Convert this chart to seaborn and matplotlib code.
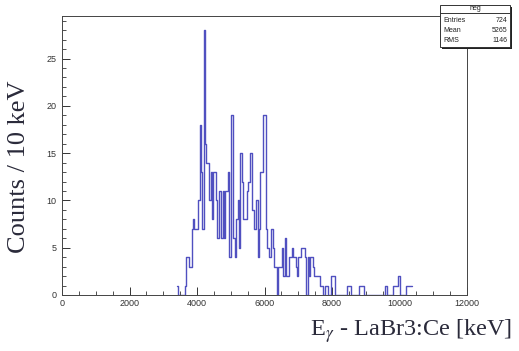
import numpy as np
import pandas as pd
import matplotlib
matplotlib.use("Agg")
import matplotlib.pyplot as plt
from matplotlib.patches import Rectangle
from matplotlib.lines import Line2D
from matplotlib.ticker import MultipleLocator
import seaborn as sns

# ---------------- data ----------------
bin_start = 3400      # keV, low edge of first bin
bin_width = 40        # keV
counts = [
    1, 0, 0, 0, 0, 0, 1, 4, 4, 3,
    3, 7, 8, 7, 7, 7, 10, 18, 13, 7,
    28, 16, 14, 14, 10, 13, 8, 13, 13, 10,
    6, 11, 11, 6, 11, 6, 11, 11, 13, 4,
    19, 19, 6, 4, 8, 10, 5, 15, 12, 8,
    8, 8, 11, 12, 15, 15, 9, 7, 7, 10,
    4, 7, 13, 13, 19, 19, 7, 5, 4, 4,
    7, 5, 3, 3, 0, 3, 3, 3, 5, 2,
    6, 2, 2, 4, 4, 5, 4, 4, 3, 2,
    4, 4, 5, 5, 5, 4, 0, 4, 2, 4,
    4, 3, 2, 2, 2, 2, 1, 1, 0, 0,
    1, 1, 0, 0, 2, 2, 2, 0, 0, 0,
    0, 0, 0, 0, 0, 0, 1, 1, 1, 0,
    0, 0, 0, 0, 0, 1, 1, 1, 1, 0,
    0, 0, 0, 0, 0, 0, 0, 0, 0, 0,
    0, 0, 0, 0, 1, 1, 0, 0, 0, 0,
    1, 1, 1, 1, 2, 0, 0, 0, 0, 0,
    1, 1, 1, 1,
]
x_ticks = [0, 2000, 4000, 6000, 8000, 10000, 12000]
y_ticks = [0, 5, 10, 15, 20, 25]
stats_title = "heg"
stats_names = ["Entries", "Mean", "RMS"]
stats_values = ["724", "5265", "1146"]
x_label = r"E$_{\gamma}$ - LaBr3:Ce [keV]"
y_label = "Counts / 10 keV"

# ---------------- build table ----------------
n = len(counts)
edges = [float(bin_start + bin_width * i) for i in range(n + 1)]
centers = [e + bin_width / 2 for e in edges[:-1]]
df = pd.DataFrame({"energy": centers, "counts": counts})

# ---------------- figure ----------------
sns.set_style("white")
plt.rcParams["mathtext.fontset"] = "stix"
fig = plt.figure(figsize=(5.19, 3.51), dpi=100)
ax = fig.add_axes([62 / 519, 1 - 295 / 351, (467 - 62) / 519, (295 - 16) / 351])

sns.histplot(data=df, x="energy", weights="counts", bins=edges,
             element="step", fill=False, color="#5050c0", linewidth=1.0,
             ax=ax)

ax.set_xlim(0, 12000)
ax.set_ylim(0, 29.5)
ax.set_xticks(x_ticks)
ax.set_yticks(y_ticks)
ax.xaxis.set_minor_locator(MultipleLocator(500))
ax.yaxis.set_minor_locator(MultipleLocator(1))
ax.tick_params(axis="both", which="major", direction="in", length=6,
               width=0.7, color="#333333", labelsize=6.5,
               labelcolor="#333333", bottom=True, left=True,
               top=False, right=False)
ax.tick_params(axis="both", which="minor", direction="in", length=3,
               width=0.6, color="#333333", bottom=True, left=True,
               top=False, right=False)
ax.tick_params(axis="x", which="major", pad=3)
ax.tick_params(axis="y", which="major", pad=4)
for lab in ax.get_xticklabels() + ax.get_yticklabels():
    lab.set_family("Liberation Sans")
for sp in ax.spines.values():
    sp.set_linewidth(0.7)
    sp.set_color("#444444")
ax.set_xlabel("")
ax.set_ylabel("")

fig.text(19 / 519, 1 - 167 / 351, y_label, rotation=90, ha="center",
         va="center", fontsize=19, family="Liberation Serif",
         color="#2a2a3a")
fig.text(512 / 519, 1 - 331 / 351, x_label, ha="right", va="center",
         fontsize=17.5, family="Liberation Serif", color="#2a2a3a")

# ---------------- stats box ----------------
def fx(px):
    return px / 519

def fy(py):
    return 1 - py / 351

fig.add_artist(Rectangle((fx(442), fy(49)), fx(70), 42 / 351,
                         transform=fig.transFigure, facecolor="#222222",
                         edgecolor="none", zorder=9))
fig.add_artist(Rectangle((fx(440), fy(47)), fx(70), 42 / 351,
                         transform=fig.transFigure, facecolor="white",
                         edgecolor="#333333", linewidth=0.7, zorder=10))
fig.add_artist(Line2D([fx(440), fx(510)], [fy(13), fy(13)],
                      transform=fig.transFigure, color="#333333",
                      linewidth=0.7, zorder=11))
fig.text(fx(475), fy(9), stats_title, ha="center", va="center",
         fontsize=5, family="Liberation Sans", color="#222222", zorder=12)
for i, (nm, vl) in enumerate(zip(stats_names, stats_values)):
    yy = fy(20 + i * 10)
    fig.text(fx(443), yy, nm, ha="left", va="center", fontsize=5,
             family="Liberation Sans", color="#222222", zorder=12)
    fig.text(fx(507), yy, vl, ha="right", va="center", fontsize=5,
             family="Liberation Sans", color="#222222", zorder=12)

fig.savefig("out.png", dpi=100, facecolor="white")
